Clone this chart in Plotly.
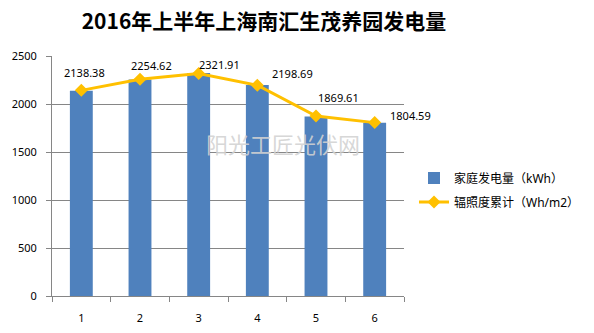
import plotly.graph_objects as go

months = ["1", "2", "3", "4", "5", "6"]
power_kwh = [2138.38, 2254.62, 2321.91, 2198.69, 1869.61, 1804.59]
irradiation = [2142, 2258, 2318, 2195, 1875, 1806]
y_ticks = [0, 500, 1000, 1500, 2000, 2500]

# label offsets (pixels) for data labels
label_dx = [3, 11, 21, 35, 22, 36]
label_dy = [18, 14, 9, 11, 19, 7]

FONT = "Noto Sans, Noto Sans CJK SC, sans-serif"

fig = go.Figure()
fig.add_trace(go.Bar(
    x=months, y=power_kwh, name="家庭发电量（kWh）",
    marker=dict(color="#4F81BD", line=dict(width=0)),
    legendgroup="a",
))
fig.add_trace(go.Scatter(
    x=months, y=irradiation, name="辐照度累计（Wh/m2）",
    mode="lines+markers",
    line=dict(color="#FFC000", width=3),
    marker=dict(symbol="diamond", size=10, color="#FFC000"),
    legendgroup="b",
))

for i, (v, dx, dy) in enumerate(zip(power_kwh, label_dx, label_dy)):
    fig.add_annotation(x=i, y=v, text=f"{v:.2f}", showarrow=False,
                       xshift=dx, yshift=dy,
                       font=dict(family=FONT, size=11, color="#000000"))

# watermark
fig.add_annotation(xref="paper", yref="paper", x=(283 - 52) / 352, y=(296 - 143) / 240,
                   text="阳光工匠光伏网", showarrow=False,
                   font=dict(family="Noto Sans CJK SC", size=22, color="rgba(210,210,210,0.9)"))

fig.update_layout(
    width=594, height=333,
    margin=dict(l=52, r=190, t=56, b=37, autoexpand=False),
    paper_bgcolor="white", plot_bgcolor="white",
    title=dict(text="<b>2016年上半年上海南汇生茂养园发电量</b>",
               x=264 / 594, xanchor="center", y=1 - 22 / 333, yanchor="middle",
               font=dict(family="Noto Sans CJK SC", size=21, color="#000000")),
    bargap=0.61,
    showlegend=True,
    legend=dict(x=(414 - 52) / 352, xanchor="left", y=(296 - 190) / 240, yanchor="middle",
                font=dict(family=FONT, size=12, color="#000000"),
                traceorder="grouped", tracegroupgap=5, itemwidth=30,
                bgcolor="rgba(0,0,0,0)"),
    font=dict(family=FONT),
)
fig.update_xaxes(type="category", range=[-0.5, 5.5], automargin=False,
                 showline=True, linecolor="#868686", linewidth=1,
                 ticks="outside", tickson="boundaries", ticklen=5, tickcolor="#868686",
                 ticklabelstandoff=12,
                 tickfont=dict(family=FONT, size=11, color="#000000"),
                 showgrid=False, mirror=False)
fig.update_yaxes(range=[0, 2500], tickvals=y_ticks, automargin=False,
                 showline=True, linecolor="#868686",
                 linewidth=1, ticks="outside", ticklen=5, tickcolor="#868686",
                 ticklabelstandoff=7,
                 showgrid=True, gridcolor="#868686", gridwidth=1, zeroline=False,
                 tickfont=dict(family=FONT, size=11, color="#000000"))

fig.write_html("out.html")
